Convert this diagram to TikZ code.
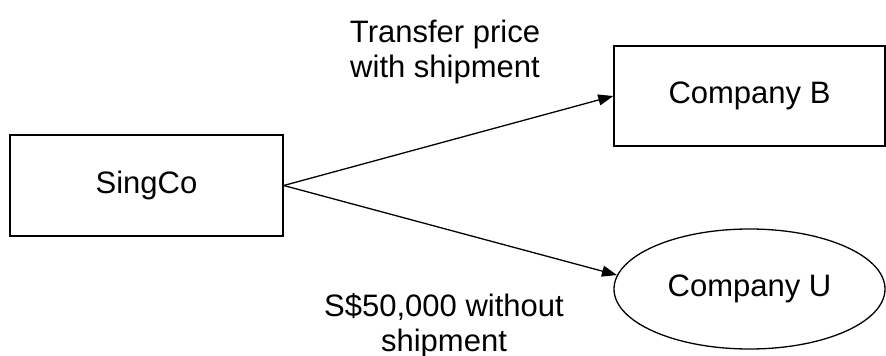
\documentclass[tikz,border=0pt]{standalone}
\usepackage{fontspec}
\setmainfont{Liberation Sans}
\usetikzlibrary{arrows.meta,shapes.geometric}

\begin{document}
\begin{tikzpicture}[x=1pt,y=-1pt,
  box/.style={draw,line width=1.5pt,inner sep=0pt},
  flow/.style={line width=1.3pt,-{Triangle[length=15pt,width=11pt]}},
  lbl/.style={align=center,inner sep=0pt}]
\fontsize{31}{35}\selectfont
\useasboundingbox (0,0) rectangle (886,356);

% Companies
\node[box,minimum width=273pt,minimum height=101pt] (S) at (146.5,185.5) {SingCo};
\node[box,minimum width=271pt,minimum height=100pt] (B) at (749.5,96) {Company B};
\node[box,ellipse,line width=1.3pt,minimum width=271pt,minimum height=120pt] (U) at (749.5,289) {Company U};

% Flows
\draw[flow] (S.east) -- (B.west);
\draw[flow] (S.east) -- (U.174);

% Labels
\node[lbl] (LB) at (445,52) {Transfer price\\with shipment};
\node[lbl] (LU) at (444,326) {S\$50,000 without\\shipment};

\end{tikzpicture}
\end{document}
